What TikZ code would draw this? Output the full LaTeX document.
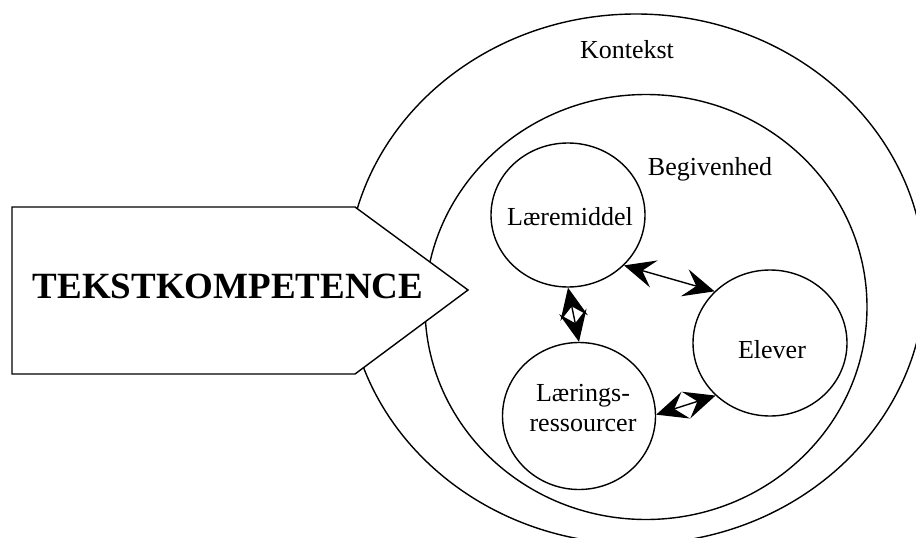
\documentclass[tikz,border=0pt]{standalone}
\usepackage{fontspec}
\setmainfont{Liberation Serif}
\usetikzlibrary{shapes.geometric,arrows.meta}
\tikzset{
  ring/.style={draw, ellipse, line width=1.4pt, inner sep=0pt, fill=white},
  lbl/.style={font=\fontsize{26}{30}\selectfont, inner sep=0pt, anchor=base},
  dbl/.style={line width=1.4pt, {Stealth[length=31pt,width=28pt,inset=12pt]}-{Stealth[length=31pt,width=28pt,inset=12pt]}},
  pent/.style={draw, line width=1.4pt, fill=white, line join=miter}
}
\begin{document}
\begin{tikzpicture}[x=1pt,y=-1pt]
\useasboundingbox (0,0) rectangle (916,538);
\clip (0,0) rectangle (916,538);
% outer and inner contexts
\node[ring, minimum width=578pt, minimum height=530pt] (kontekst) at (636,279) {};
\node[ring, minimum width=442pt, minimum height=425pt] (begiv) at (646,307) {};
\node[lbl] (tkon) at (627,58) {Kontekst};
\node[lbl] (tbeg) at (710,175) {Begivenhed};
% three circles
\node[ring, minimum width=154pt, minimum height=144pt] (lm) at (568,215) {};
\node[ring, minimum width=154pt, minimum height=146pt] (elev) at (770,343) {};
\node[ring, minimum width=153pt, minimum height=147pt] (lr) at (579,416) {};
\node[lbl] (tlm) at (570,225) {Læremiddel};
\node[lbl] (tel) at (772,358) {Elever};
\node[font=\fontsize{26}{30}\selectfont, inner sep=0pt, align=center] (tlr) at (583,408) {Lærings-\\ressourcer};
% arrows
\draw[dbl] (lm.-42) -- (elev.137);
\draw[dbl] (lm.south) -- (lr.north);
\draw[dbl] (lr.1) -- (elev.224);
% big arrow shape
\coordinate (p1) at (12,207);
\coordinate (p2) at (355,207);
\coordinate (p3) at (468,290);
\coordinate (p4) at (355,374);
\coordinate (p5) at (12,374);
\draw[pent] (p1) -- (p2) -- (p3) -- (p4) -- (p5) -- cycle;
\node[font=\bfseries\fontsize{37}{40}\selectfont, inner sep=0pt, anchor=base] (tk) at (228,298) {TEKSTKOMPETENCE};
\end{tikzpicture}
\end{document}
